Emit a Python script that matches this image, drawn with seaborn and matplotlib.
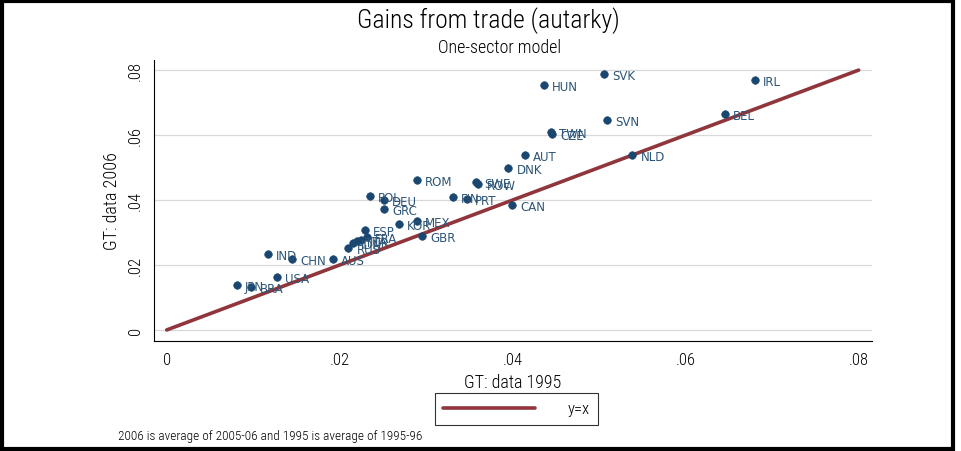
import numpy as np
import pandas as pd
import matplotlib.pyplot as plt
import seaborn as sns
from matplotlib.patches import Rectangle
from matplotlib.lines import Line2D

# data
countries = ["IRL", "BEL", "SVK", "HUN", "SVN", "TWN", "CZE", "NLD", "AUT", "DNK",
             "ROM", "SWE", "ROW", "FIN", "PRT", "CAN", "POL", "DEU", "GRC", "MEX",
             "KOR", "GBR", "ESP", "FRA", "ITA", "TUR", "IDN", "RUS", "IND", "CHN",
             "AUS", "USA", "JPN", "BRA"]
gt_1995 = [0.0680, 0.0645, 0.0505, 0.0436, 0.0509, 0.0444, 0.0446, 0.0538, 0.0414, 0.0395,
           0.0289, 0.0357, 0.0360, 0.0331, 0.0347, 0.0399, 0.0235, 0.0251, 0.0251, 0.0289,
           0.0268, 0.0295, 0.0229, 0.0231, 0.0225, 0.0220, 0.0215, 0.0210, 0.0117, 0.0145,
           0.0192, 0.0127, 0.0081, 0.0098]
gt_2006 = [0.0769, 0.0665, 0.0788, 0.0754, 0.0646, 0.0609, 0.0603, 0.0538, 0.0538, 0.0498,
           0.0462, 0.0455, 0.0449, 0.0409, 0.0403, 0.0385, 0.0412, 0.0400, 0.0372, 0.0335,
           0.0326, 0.0289, 0.0308, 0.0286, 0.0277, 0.0274, 0.0268, 0.0252, 0.0234, 0.0218,
           0.0218, 0.0163, 0.0138, 0.0132]
diag = [0.0, 0.08]
ticks = [0, 0.02, 0.04, 0.06, 0.08]
tick_labels = ["0", ".02", ".04", ".06", ".08"]

df = pd.DataFrame({"country": countries, "x": gt_1995, "y": gt_2006})
line_df = pd.DataFrame({"x": diag, "y": diag})

sns.set_style("white")
plt.rcParams["font.family"] = ["Roboto Condensed", "DejaVu Sans"]
plt.rcParams["font.weight"] = "light"
plt.rcParams["axes.labelweight"] = "light"
plt.rcParams["text.color"] = "black"
plt.rcParams["axes.labelcolor"] = "black"
plt.rcParams["xtick.color"] = "black"
plt.rcParams["ytick.color"] = "black"

NAVY = "#1a476f"
MAROON = "#90353b"

fig = plt.figure(figsize=(9.61, 4.52), dpi=100)
ax = fig.add_axes([0.160, 0.2434, 0.747, 0.6216])

for t in ticks:
    ax.axhline(t, color="#d9d9d9", lw=0.9, zorder=0)

sns.lineplot(data=line_df, x="x", y="y", color=MAROON, lw=2.6, ax=ax, zorder=2)
sns.scatterplot(data=df, x="x", y="y", color=NAVY, s=30, edgecolor=NAVY, ax=ax, zorder=3)
for c, x, y in zip(countries, gt_1995, gt_2006):
    ax.annotate(c, (x, y), xytext=(6, -1), textcoords="offset points", va="center",
                ha="left", fontsize=8.5, color="#2d5577", family="DejaVu Sans",
                weight="normal", zorder=4)

ax.set_xlim(-0.0015, 0.0815)
ax.set_ylim(-0.0034, 0.0831)
ax.set_xticks(ticks)
ax.set_xticklabels(tick_labels, fontsize=12)
ax.set_yticks(ticks)
ax.set_yticklabels(tick_labels, fontsize=12, rotation=90, va="center")
ax.tick_params(axis="both", direction="out", length=5, width=0.8)
ax.tick_params(axis="x", pad=3)
ax.tick_params(axis="y", pad=3)
ax.set_xlabel("GT: data 1995", fontsize=13, labelpad=4)
ax.set_ylabel("GT: data 2006", fontsize=13, labelpad=5)
for s in ["top", "right"]:
    ax.spines[s].set_visible(False)
for s in ["left", "bottom"]:
    ax.spines[s].set_color("black")
    ax.spines[s].set_linewidth(0.8)

fig.text(0.508, 0.955, "Gains from trade (autarky)", ha="center", va="center", fontsize=18.5)
fig.text(0.520, 0.893, "One-sector model", ha="center", va="center", fontsize=13)

handle = Line2D([], [], color=MAROON, lw=2.6)
leg = fig.legend([handle], ["y=x"], loc="center", fontsize=12, frameon=True, fancybox=False,
                 edgecolor="black", handlelength=5.5, handletextpad=2.0, borderpad=0.5,
                 borderaxespad=0, bbox_to_anchor=(0.5375, (452 - 410) / 452),
                 bbox_transform=fig.transFigure)
leg.get_frame().set_linewidth(0.8)

fig.text(118 / 961, (452 - 437) / 452, "2006 is average of 2005-06 and 1995 is average of 1995-96",
         ha="left", va="center", fontsize=9.5)

fig.patches.append(Rectangle((0.002, 0.005), 0.990, 0.990, transform=fig.transFigure,
                             fill=False, edgecolor="black", lw=3))

fig.savefig("out.png", dpi=100)
